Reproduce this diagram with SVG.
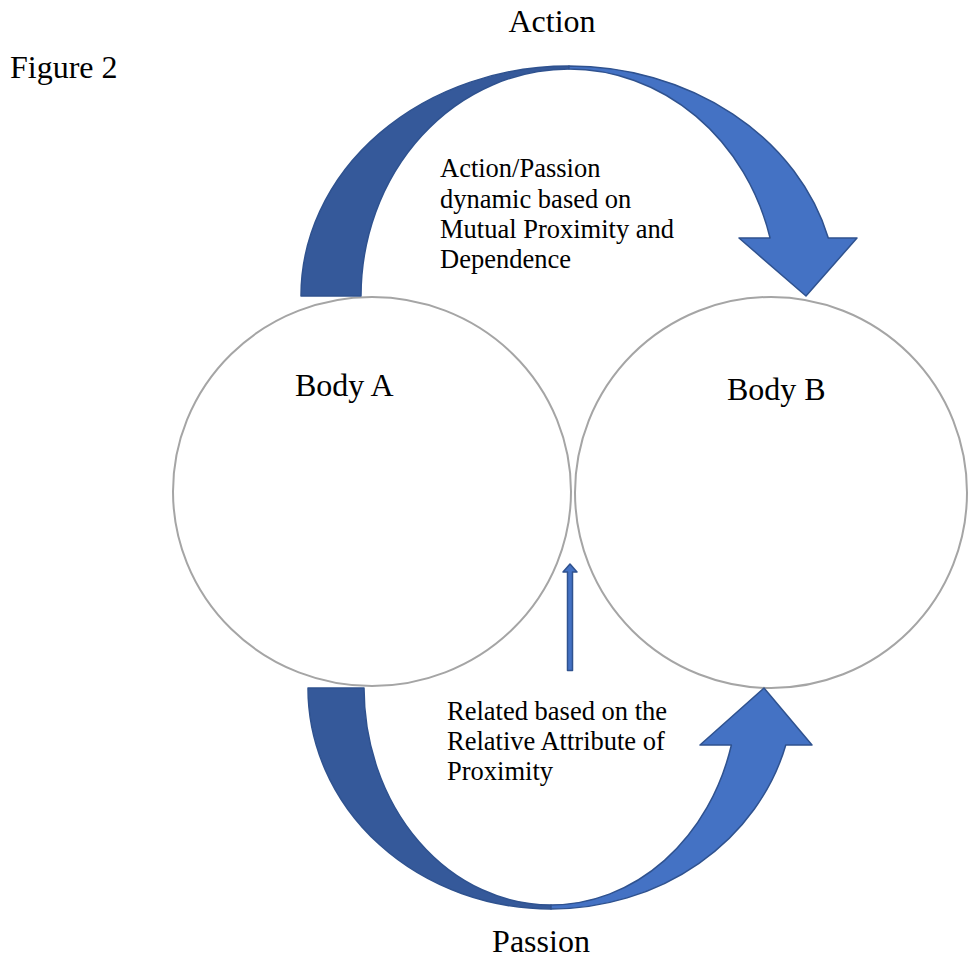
<svg xmlns="http://www.w3.org/2000/svg" width="968" height="960" viewBox="0 0 968 960">
<style>
.t{font-family:"Liberation Serif","Times New Roman",serif;fill:#000}
.lbl{font-size:32px}
.note{font-size:26.5px}
.body{fill:#fff;stroke:#a5a5a5;stroke-width:2}
.dark{fill:#35599a;stroke:#2f528f;stroke-width:1.5;stroke-linejoin:round}
.light{fill:#4472c4;stroke:#2f528f;stroke-width:1.5;stroke-linejoin:round}
</style>
<rect width="968" height="960" fill="#fff"/>
<text class="t lbl" x="10" y="78">Figure 2</text>
<g id="bodyA">
<ellipse class="body" cx="372" cy="491.5" rx="199" ry="194.5"/>
<text class="t lbl" x="295" y="396">Body A</text>
</g>
<g id="bodyB">
<ellipse class="body" cx="771" cy="492.5" rx="196" ry="195.5"/>
<text class="t lbl" x="727" y="400">Body B</text>
</g>
<g id="connectors">
<g id="action-arrow">
<path class="dark" d="M301,296 A268,230 0 0 1 569,66 L569,69 A208,227 0 0 0 361,296 Z"/>
<path class="light" d="M569,66 A268,230 0 0 1 828.3,238 L857,238 L806,296 L739,238 L770.1,238 A208,227 0 0 0 569,69 Z"/>
</g>
<g id="passion-arrow">
<path class="dark" d="M308,688 A243,221 0 0 0 551,909 L551,905 A187,217 0 0 1 364,688 Z"/>
<path class="light" d="M551,909 A243,221 0 0 0 785.8,745 L812,745 L764,688 L700,745 L731.4,745 A187,217 0 0 1 551,905 Z"/>
</g>
<path id="proximity-arrow" class="light" d="M567.5,670.5 L567.5,572 L563,572 L570,564 L577,572 L572.5,572 L572.5,670.5 Z"/>
</g>
<text class="t lbl" x="552" y="32" text-anchor="middle">Action</text>
<text class="t lbl" x="541" y="952" text-anchor="middle">Passion</text>
<text class="t note" x="440" y="177">Action/Passion</text>
<text class="t note" x="440" y="208">dynamic based on</text>
<text class="t note" x="440" y="238">Mutual Proximity and</text>
<text class="t note" x="440" y="268">Dependence</text>
<text class="t note" x="447" y="720">Related based on the</text>
<text class="t note" x="447" y="750">Relative Attribute of</text>
<text class="t note" x="447" y="780">Proximity</text>
</svg>
